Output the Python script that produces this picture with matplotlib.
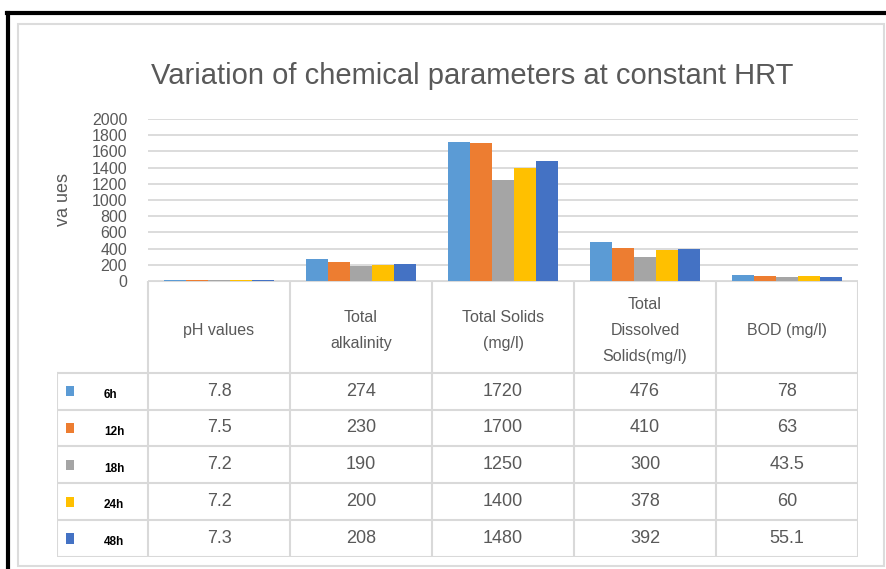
import matplotlib
matplotlib.use("Agg")
import matplotlib.pyplot as plt
import numpy as np
from matplotlib.lines import Line2D
from matplotlib.patches import Rectangle

plt.rcParams["font.family"] = ["Liberation Sans", "DejaVu Sans"]

categories = ["pH values", "Total\nalkalinity", "Total Solids\n(mg/l)",
              "Total\nDissolved\nSolids(mg/l)", "BOD (mg/l)"]
series = ["6h", "12h", "18h", "24h", "48h"]
v_6h = [7.8, 274, 1720, 476, 78]
v_12h = [7.5, 230, 1700, 410, 63]
v_18h = [7.2, 190, 1250, 300, 43.5]
v_24h = [7.2, 200, 1400, 378, 60]
v_48h = [7.3, 208, 1480, 392, 55.1]
cell_text = [["7.8", "274", "1720", "476", "78"],
             ["7.5", "230", "1700", "410", "63"],
             ["7.2", "190", "1250", "300", "43.5"],
             ["7.2", "200", "1400", "378", "60"],
             ["7.3", "208", "1480", "392", "55.1"]]
yticks = [0, 200, 400, 600, 800, 1000, 1200, 1400, 1600, 1800, 2000]

colors = ["#5B9BD5", "#ED7D31", "#A5A5A5", "#FFC000", "#4472C4"]
grid_c = "#d9d9d9"
txt_c = "#595959"

W, H = 886, 569
fig = plt.figure(figsize=(W / 100, H / 100), dpi=100)


def fx(px):
    return px / W


def fy(py):
    return 1 - py / H


# frames
fig.add_artist(Rectangle((fx(18), fy(566)), fx(866), 542 / H, fill=False,
                         ec="#dcdcdc", lw=1.5, transform=fig.transFigure))
fig.add_artist(Line2D([fx(7), 1], [fy(13), fy(13)], color="black", lw=3,
                      transform=fig.transFigure))
fig.add_artist(Line2D([fx(8), fx(8)], [fy(13), 0], color="black", lw=3,
                      transform=fig.transFigure))

fig.text(fx(472), fy(76), "Variation of chemical parameters at constant HRT",
         ha="center", va="center", fontsize=21, color=txt_c)

# bar chart
ax = fig.add_axes([fx(148), fy(281), fx(710), (281 - 119) / H])
n = len(series)
x = np.arange(len(categories))
bw = 0.155
all_vals = [v_6h, v_12h, v_18h, v_24h, v_48h]
for i, (vals, c) in enumerate(zip(all_vals, colors)):
    ax.bar(x + (i - (n - 1) / 2) * bw, vals, bw, color=c, zorder=3)
ax.set_xlim(-0.5, len(categories) - 0.5)
ax.set_ylim(0, 2000)
ax.set_yticks(yticks)
ax.set_yticklabels([str(t) for t in yticks], fontsize=11.5, color=txt_c)
ax.set_xticks([])
ax.grid(axis="y", color=grid_c, lw=1.3, zorder=0)
for s in ax.spines.values():
    s.set_visible(False)
ax.tick_params(axis="y", length=0, pad=15)
ax.set_ylabel("va ues", fontsize=13, color=txt_c, labelpad=14)

# data table
lab_w = (148 - 57) / 142
tb = fig.add_axes([fx(57), fy(557), fx(801), (557 - 281) / H])
tb.set_xlim(-0.5 - lab_w, len(categories) - 0.5)
hdr = 92 / 37
nrows = len(series)
tb.set_ylim(hdr + nrows, 0)
tb.axis("off")
lk = dict(color=grid_c, lw=1.5)
right = len(categories) - 0.5
tb.plot([-0.5, right], [0, 0], **lk)
for k in range(nrows + 1):
    tb.plot([-0.5 - lab_w, right], [hdr + k, hdr + k], **lk)
for j in range(len(categories) + 1):
    tb.plot([j - 0.5, j - 0.5], [0, hdr + nrows], **lk)
tb.plot([-0.5 - lab_w, -0.5 - lab_w], [hdr, hdr + nrows], **lk)

for j, cat in enumerate(categories):
    tb.text(j, hdr / 2 + 0.1, cat, ha="center", va="center", fontsize=11.5,
            color=txt_c, linespacing=1.9)
for r, name in enumerate(series):
    yc = hdr + r + 0.5
    tb.add_patch(Rectangle((-0.5 - lab_w + 0.06, yc - 0.14), 0.06, 0.28,
                           color=colors[r], lw=0))
    tb.text(-0.5 - lab_w + 0.33, yc + 0.1, name, ha="left", va="center",
            fontsize=8.5, fontweight="bold", color="black")
    for j, v in enumerate(cell_text[r]):
        tb.text(j, yc, v, ha="center", va="center", fontsize=13, color=txt_c)

fig.savefig("out.png", dpi=100)
